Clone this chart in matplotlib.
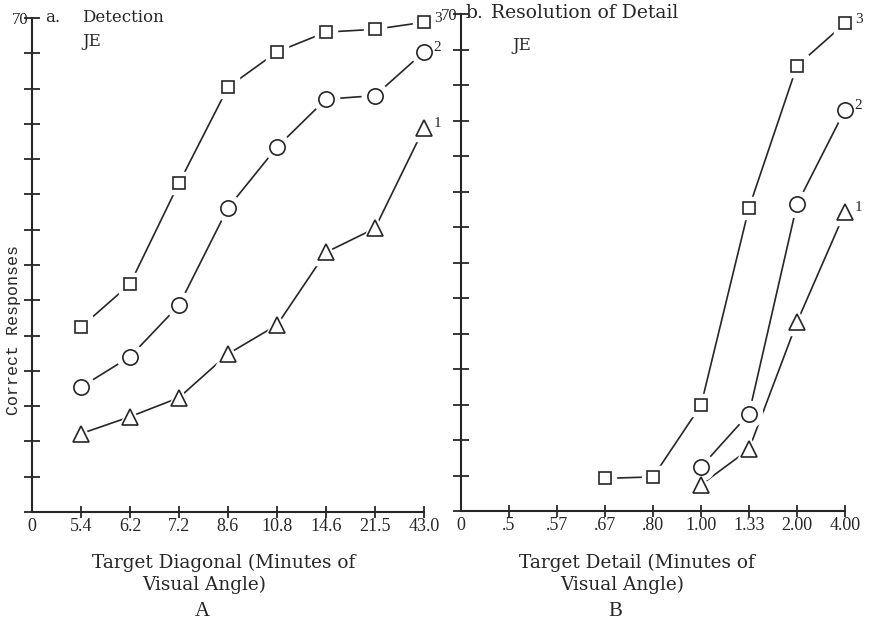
import matplotlib
matplotlib.use("Agg")
import matplotlib.pyplot as plt

# ---------------- data ----------------
left_ticklabels = ['0', '5.4', '6.2', '7.2', '8.6', '10.8', '14.6', '21.5', '43.0']
left_pos = [1, 2, 3, 4, 5, 6, 7, 8]
left_s3 = [26.2, 32.3, 46.6, 60.2, 65.2, 68.0, 68.4, 69.4]
left_s2 = [17.7, 22.0, 29.3, 43.1, 51.7, 58.5, 59.0, 65.2]
left_s1 = [11.1, 13.5, 16.2, 22.4, 26.5, 36.8, 40.2, 54.4]

right_ticklabels = ['0', '.5', '.57', '.67', '.80', '1.00', '1.33', '2.00', '4.00']
right_pos3 = [3, 4, 5, 6, 7, 8]
right_s3 = [4.6, 4.8, 14.9, 42.7, 62.7, 68.7]
right_pos12 = [5, 6, 7, 8]
right_s2 = [6.2, 13.7, 43.2, 56.5]
right_s1 = [3.7, 8.7, 26.6, 42.1]

series_names = ['3', '2', '1']
markers = ['s', 'o', '^']
msizes = [8, 11, 11]

INK = '#262626'
MONO = 'Liberation Mono'
SERIF = 'Liberation Serif'
CENT = 'DejaVu Serif'

fig = plt.figure(figsize=(8.69, 6.23), dpi=100)
fig.patch.set_facecolor('white')

axL = fig.add_axes([32/869, 1-512/623, (424-32)/869, (512-18)/623])
axR = fig.add_axes([461/869, 1-511/623, (845-461)/869, (511-14)/623])


def draw_series(ax, xs, ys, marker, ms, name):
    ax.plot(xs, ys, '-', color=INK, lw=1.2, zorder=2, clip_on=False)
    # white halo to create gaps between lines and markers
    ax.plot(xs, ys, linestyle='none', marker=marker, ms=ms + 8,
            mfc='white', mec='white', zorder=3, clip_on=False)
    ax.plot(xs, ys, linestyle='none', marker=marker, ms=ms,
            mfc='white', mec=INK, mew=1.2, zorder=4, clip_on=False)
    ax.annotate(name, (xs[-1], ys[-1]), xytext=(7, 3), textcoords='offset points',
                fontsize=11, family=SERIF, color=INK, ha='left', va='center')


def style_axes(ax, ticklabels):
    for s in ['top', 'right']:
        ax.spines[s].set_visible(False)
    for s in ['left', 'bottom']:
        ax.spines[s].set_color(INK)
        ax.spines[s].set_linewidth(1.5)
    ax.set_xlim(0, 8)
    ax.set_ylim(0, 70)
    ax.set_xticks(range(len(ticklabels)))
    ax.set_xticklabels(ticklabels, family=SERIF, fontsize=13, color=INK)
    yt = list(range(0, 71, 5))
    ax.set_yticks(yt)
    ax.set_yticklabels(['70' if v == 70 else '' for v in yt],
                       family=SERIF, fontsize=12, color=INK)
    ax.tick_params(axis='y', direction='inout', length=11, width=1.3,
                   color=INK, pad=-3)
    ax.tick_params(axis='x', direction='inout', length=9, width=1.3,
                   color=INK, pad=0)
    ax.set_facecolor('none')


style_axes(axL, left_ticklabels)
style_axes(axR, right_ticklabels)
axL.xaxis.get_major_ticks()[0].tick1line.set_visible(False)
axR.xaxis.get_major_ticks()[0].tick1line.set_visible(False)

for ys, m, ms, nm in zip([left_s3, left_s2, left_s1], markers, msizes, series_names):
    draw_series(axL, left_pos, ys, m, ms, nm)

draw_series(axR, right_pos3, right_s3, markers[0], msizes[0], series_names[0])
draw_series(axR, right_pos12, right_s2, markers[1], msizes[1], series_names[1])
draw_series(axR, right_pos12, right_s1, markers[2], msizes[2], series_names[2])

# titles inside panels
tkw = dict(family=CENT, fontsize=12, color=INK, ha='left', va='center')
fig.text(45/869, 1-18/623, 'a.', **tkw)
fig.text(82/869, 1-18/623, 'Detection', **tkw)
fig.text(82/869, 1-41/623, 'JE', **tkw)
rkw = dict(tkw, fontsize=13.5)
fig.text(466/869, 1-13/623, 'b.', **rkw)
fig.text(491/869, 1-13/623, 'Resolution of Detail', **rkw)
fig.text(512/869, 1-45/623, 'JE', **tkw)

# y label
fig.text(14/869, 1-330/623, 'Correct Responses', family=MONO, fontsize=12,
         color=INK, rotation=90, ha='center', va='center')

# x labels
lkw = dict(family=CENT, fontsize=13.3, color=INK, ha='center', va='center')
fig.text(224/869, 1-563/623, 'Target Diagonal (Minutes of', **lkw)
fig.text(204/869, 1-585/623, 'Visual Angle)', **lkw)
fig.text(202/869, 1-612/623, 'A', family=SERIF, fontsize=15, color=INK,
         ha='center', va='center')

fig.text(637/869, 1-563/623, 'Target Detail (Minutes of', **lkw)
fig.text(622/869, 1-585/623, 'Visual Angle)', **lkw)
fig.text(615/869, 1-612/623, 'B', family=SERIF, fontsize=15, color=INK,
         ha='center', va='center')

fig.savefig('out.png', dpi=100, facecolor='white')
